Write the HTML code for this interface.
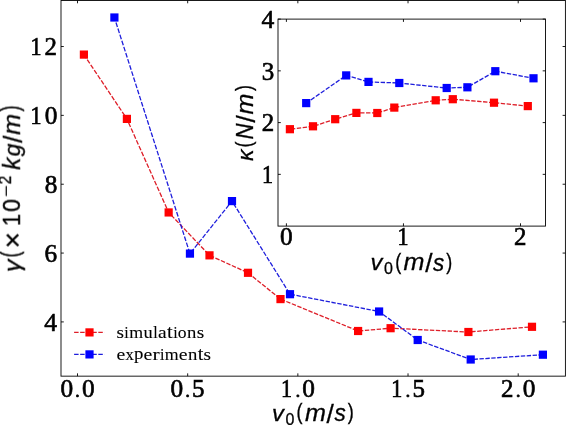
<!DOCTYPE html>
<html><head><meta charset="utf-8"><title>plot</title>
<style>html,body{margin:0;padding:0;background:#fff;overflow:hidden}svg{display:block}</style>
</head><body>
<svg width="566" height="425" viewBox="0 0 566 425"><rect width="566" height="425" fill="#fff"/><g style="opacity:0.999"><rect x="61.0" y="0.5" width="504.40" height="375.65" fill="none" stroke="#000" stroke-width="0.9"/>
<path d="M77.50 376.15v-2.8M77.50 0.50v2.8M187.68 376.15v-2.8M187.68 0.50v2.8M297.85 376.15v-2.8M297.85 0.50v2.8M408.02 376.15v-2.8M408.02 0.50v2.8M518.20 376.15v-2.8M518.20 0.50v2.8M61.00 321.92h2.8M565.40 321.92h-2.8M61.00 253.07h2.8M565.40 253.07h-2.8M61.00 184.22h2.8M565.40 184.22h-2.8M61.00 115.37h2.8M565.40 115.37h-2.8M61.00 46.52h2.8M565.40 46.52h-2.8" stroke="#000" stroke-width="0.9" fill="none"/>
<g fill="none" stroke="rgb(222,30,40)" stroke-width="1.3"><path d="M83.90 54.60L126.90 118.90" stroke-dasharray="4.652 1.639" stroke-dashoffset="0.321"/><path d="M126.90 118.90L168.65 212.45" stroke-dasharray="4.715 1.661" stroke-dashoffset="78.731"/><path d="M168.65 212.45L209.50 255.35" stroke-dasharray="4.581 1.614" stroke-dashoffset="176.026"/><path d="M209.50 255.35L248.00 272.80" stroke-dasharray="4.441 1.564" stroke-dashoffset="227.676"/><path d="M248.00 272.80L280.50 299.10" stroke-dasharray="4.528 1.595" stroke-dashoffset="275.673"/><path d="M280.50 299.10L358.10 331.00" stroke-dasharray="4.431 1.561" stroke-dashoffset="311.318"/><path d="M358.10 331.00L390.60 328.20" stroke-dasharray="4.380 1.543" stroke-dashoffset="390.047"/><path d="M390.60 328.20L468.40 332.00" stroke-dasharray="4.379 1.542" stroke-dashoffset="422.493"/><path d="M468.40 332.00L532.00 326.80" stroke-dasharray="4.380 1.543" stroke-dashoffset="500.562"/></g>
<rect x="79.80" y="50.50" width="8.2" height="8.2" fill="#ff0000"/>
<rect x="122.80" y="114.80" width="8.2" height="8.2" fill="#ff0000"/>
<rect x="164.55" y="208.35" width="8.2" height="8.2" fill="#ff0000"/>
<rect x="205.40" y="251.25" width="8.2" height="8.2" fill="#ff0000"/>
<rect x="243.90" y="268.70" width="8.2" height="8.2" fill="#ff0000"/>
<rect x="276.40" y="295.00" width="8.2" height="8.2" fill="#ff0000"/>
<rect x="354.00" y="326.90" width="8.2" height="8.2" fill="#ff0000"/>
<rect x="386.50" y="324.10" width="8.2" height="8.2" fill="#ff0000"/>
<rect x="464.30" y="327.90" width="8.2" height="8.2" fill="#ff0000"/>
<rect x="527.90" y="322.70" width="8.2" height="8.2" fill="#ff0000"/>
<g fill="none" stroke="rgb(30,30,220)" stroke-width="1.3"><path d="M114.40 17.50L189.95 253.60" stroke-dasharray="4.748 1.673" stroke-dashoffset="1.233"/><path d="M189.95 253.60L232.00 201.10" stroke-dasharray="4.617 1.626" stroke-dashoffset="241.949"/><path d="M232.00 201.10L290.00 294.20" stroke-dasharray="4.664 1.643" stroke-dashoffset="312.425"/><path d="M290.00 294.20L379.10 311.50" stroke-dasharray="4.391 1.547" stroke-dashoffset="397.184"/><path d="M379.10 311.50L417.70 340.00" stroke-dasharray="4.511 1.589" stroke-dashoffset="501.282"/><path d="M417.70 340.00L470.70 359.50" stroke-dasharray="4.422 1.558" stroke-dashoffset="538.560"/><path d="M470.70 359.50L542.90 354.70" stroke-dasharray="4.379 1.543" stroke-dashoffset="589.352"/></g>
<rect x="110.30" y="13.40" width="8.2" height="8.2" fill="#0000ff"/>
<rect x="185.85" y="249.50" width="8.2" height="8.2" fill="#0000ff"/>
<rect x="227.90" y="197.00" width="8.2" height="8.2" fill="#0000ff"/>
<rect x="285.90" y="290.10" width="8.2" height="8.2" fill="#0000ff"/>
<rect x="375.00" y="307.40" width="8.2" height="8.2" fill="#0000ff"/>
<rect x="413.60" y="335.90" width="8.2" height="8.2" fill="#0000ff"/>
<rect x="466.60" y="355.40" width="8.2" height="8.2" fill="#0000ff"/>
<rect x="538.80" y="350.60" width="8.2" height="8.2" fill="#0000ff"/>
<path d="M74.1 332.4H104.4" stroke="rgb(222,30,40)" stroke-width="1.3" stroke-dasharray="4.5 1.55"/>
<rect x="85.40" y="328.30" width="8.2" height="8.2" fill="#ff0000"/>
<path d="M74.1 354.4H104.4" stroke="rgb(30,30,220)" stroke-width="1.3" stroke-dasharray="4.5 1.55"/>
<rect x="85.40" y="350.30" width="8.2" height="8.2" fill="#0000ff"/>
<g><text transform="matrix(1.1368 0 0 1 116.47 337.59)" font-family="Liberation Serif" font-size="16.94" fill="#000" stroke="#000" stroke-width="0.11">s</text><text transform="matrix(0.9670 0 0 1 124.37 337.54)" font-family="Liberation Serif" font-size="16.60" fill="#000" stroke="#000" stroke-width="0.12">i</text><text transform="matrix(1.0612 0 0 1 129.16 337.54)" font-family="Liberation Serif" font-size="16.83" fill="#000" stroke="#000" stroke-width="0.11">m</text><text transform="matrix(1.0870 0 0 1 143.47 337.59)" font-family="Liberation Serif" font-size="16.92" fill="#000" stroke="#000" stroke-width="0.11">u</text><text transform="matrix(0.9830 0 0 1 153.14 337.54)" font-family="Liberation Serif" font-size="16.36" fill="#000" stroke="#000" stroke-width="0.12">l</text><text transform="matrix(1.1467 0 0 1 157.93 337.59)" font-family="Liberation Serif" font-size="17.00" fill="#000" stroke="#000" stroke-width="0.10">a</text><text transform="matrix(1.1370 0 0 1 167.10 337.58)" font-family="Liberation Serif" font-size="18.10" fill="#000" stroke="#000" stroke-width="0.11">t</text><text transform="matrix(0.9670 0 0 1 173.14 337.54)" font-family="Liberation Serif" font-size="16.60" fill="#000" stroke="#000" stroke-width="0.12">i</text><text transform="matrix(1.0393 0 0 1 177.84 337.59)" font-family="Liberation Serif" font-size="16.94" fill="#000" stroke="#000" stroke-width="0.12">o</text><text transform="matrix(1.1111 0 0 1 186.97 337.54)" font-family="Liberation Serif" font-size="16.83" fill="#000" stroke="#000" stroke-width="0.11">n</text><text transform="matrix(1.1368 0 0 1 196.64 337.59)" font-family="Liberation Serif" font-size="16.94" fill="#000" stroke="#000" stroke-width="0.11">s</text></g>
<g><text transform="matrix(1.1666 0 0 1 116.39 359.59)" font-family="Liberation Serif" font-size="16.94" fill="#000" stroke="#000" stroke-width="0.10">e</text><text transform="matrix(0.9967 0 0 1 125.38 359.54)" font-family="Liberation Serif" font-size="16.81" fill="#000" stroke="#000" stroke-width="0.12">x</text><text transform="matrix(1.1600 0 0 1 133.99 359.24)" font-family="Liberation Serif" font-size="16.19" fill="#000" stroke="#000" stroke-width="0.10">p</text><text transform="matrix(1.1666 0 0 1 143.51 359.59)" font-family="Liberation Serif" font-size="16.94" fill="#000" stroke="#000" stroke-width="0.10">e</text><text transform="matrix(1.2797 0 0 1 152.58 359.54)" font-family="Liberation Serif" font-size="16.83" fill="#000" stroke="#000" stroke-width="0.09">r</text><text transform="matrix(0.9670 0 0 1 159.89 359.54)" font-family="Liberation Serif" font-size="16.60" fill="#000" stroke="#000" stroke-width="0.12">i</text><text transform="matrix(1.0612 0 0 1 164.68 359.54)" font-family="Liberation Serif" font-size="16.83" fill="#000" stroke="#000" stroke-width="0.11">m</text><text transform="matrix(1.1666 0 0 1 178.81 359.59)" font-family="Liberation Serif" font-size="16.94" fill="#000" stroke="#000" stroke-width="0.10">e</text><text transform="matrix(1.1111 0 0 1 187.88 359.54)" font-family="Liberation Serif" font-size="16.83" fill="#000" stroke="#000" stroke-width="0.11">n</text><text transform="matrix(1.1370 0 0 1 197.73 359.58)" font-family="Liberation Serif" font-size="18.10" fill="#000" stroke="#000" stroke-width="0.11">t</text><text transform="matrix(1.1368 0 0 1 203.62 359.59)" font-family="Liberation Serif" font-size="16.94" fill="#000" stroke="#000" stroke-width="0.11">s</text></g>
<rect x="278.0" y="19.1" width="267.50" height="207.00" fill="#fff"/>
<rect x="278.0" y="19.1" width="267.50" height="207.00" fill="none" stroke="#000" stroke-width="0.9"/>
<path d="M286.40 226.10v-2.8M286.40 19.10v2.8M403.45 226.10v-2.8M403.45 19.10v2.8M520.50 226.10v-2.8M520.50 19.10v2.8M278.00 174.35h2.8M545.50 174.35h-2.8M278.00 122.60h2.8M545.50 122.60h-2.8M278.00 70.85h2.8M545.50 70.85h-2.8M278.00 19.10h2.8M545.50 19.10h-2.8" stroke="#000" stroke-width="0.9" fill="none"/>
<g fill="none" stroke="rgb(222,30,40)" stroke-width="1.3"><path d="M289.90 129.20L313.00 126.30" stroke-dasharray="4.383 1.544" stroke-dashoffset="-1.037"/><path d="M313.00 126.30L335.20 119.20" stroke-dasharray="4.412 1.554" stroke-dashoffset="22.388"/><path d="M335.20 119.20L356.40 112.90" stroke-dasharray="4.407 1.553" stroke-dashoffset="45.651"/><path d="M356.40 112.90L377.30 113.00" stroke-dasharray="4.378 1.542" stroke-dashoffset="67.311"/><path d="M377.30 113.00L394.30 107.60" stroke-dasharray="4.411 1.554" stroke-dashoffset="88.887"/><path d="M394.30 107.60L435.70 100.30" stroke-dasharray="4.389 1.546" stroke-dashoffset="106.178"/><path d="M435.70 100.30L452.80 99.20" stroke-dasharray="4.379 1.543" stroke-dashoffset="147.897"/><path d="M452.80 99.20L494.00 102.70" stroke-dasharray="4.380 1.543" stroke-dashoffset="165.074"/><path d="M494.00 102.70L527.80 106.10" stroke-dasharray="4.381 1.543" stroke-dashoffset="206.471"/></g>
<rect x="285.80" y="125.10" width="8.2" height="8.2" fill="#ff0000"/>
<rect x="308.90" y="122.20" width="8.2" height="8.2" fill="#ff0000"/>
<rect x="331.10" y="115.10" width="8.2" height="8.2" fill="#ff0000"/>
<rect x="352.30" y="108.80" width="8.2" height="8.2" fill="#ff0000"/>
<rect x="373.20" y="108.90" width="8.2" height="8.2" fill="#ff0000"/>
<rect x="390.20" y="103.50" width="8.2" height="8.2" fill="#ff0000"/>
<rect x="431.60" y="96.20" width="8.2" height="8.2" fill="#ff0000"/>
<rect x="448.70" y="95.10" width="8.2" height="8.2" fill="#ff0000"/>
<rect x="489.90" y="98.60" width="8.2" height="8.2" fill="#ff0000"/>
<rect x="523.70" y="102.00" width="8.2" height="8.2" fill="#ff0000"/>
<g fill="none" stroke="rgb(30,30,220)" stroke-width="1.3"><path d="M306.20 103.10L346.20 75.40" stroke-dasharray="4.500 1.585" stroke-dashoffset="0.493"/><path d="M346.20 75.40L368.50 81.90" stroke-dasharray="4.406 1.552" stroke-dashoffset="47.964"/><path d="M368.50 81.90L399.30 83.00" stroke-dasharray="4.378 1.542" stroke-dashoffset="70.737"/><path d="M399.30 83.00L446.70 88.00" stroke-dasharray="4.382 1.544" stroke-dashoffset="101.490"/><path d="M446.70 88.00L467.40 87.30" stroke-dasharray="4.378 1.542" stroke-dashoffset="149.180"/><path d="M467.40 87.30L495.30 71.20" stroke-dasharray="4.471 1.575" stroke-dashoffset="173.497"/><path d="M495.30 71.20L533.50 78.30" stroke-dasharray="4.390 1.546" stroke-dashoffset="201.974"/></g>
<rect x="302.10" y="99.00" width="8.2" height="8.2" fill="#0000ff"/>
<rect x="342.10" y="71.30" width="8.2" height="8.2" fill="#0000ff"/>
<rect x="364.40" y="77.80" width="8.2" height="8.2" fill="#0000ff"/>
<rect x="395.20" y="78.90" width="8.2" height="8.2" fill="#0000ff"/>
<rect x="442.60" y="83.90" width="8.2" height="8.2" fill="#0000ff"/>
<rect x="463.30" y="83.20" width="8.2" height="8.2" fill="#0000ff"/>
<rect x="491.20" y="67.10" width="8.2" height="8.2" fill="#0000ff"/>
<rect x="529.40" y="74.20" width="8.2" height="8.2" fill="#0000ff"/>
<g><text transform="matrix(1.0398 0 0 1 60.38 396.86)" font-family="Liberation Serif" font-size="24.37" fill="#000" stroke="#000" stroke-width="0.63">0</text><text transform="matrix(0.9952 0 0 1 75.09 396.82)" font-family="Liberation Serif" font-size="19.43" fill="#000" stroke="#000" stroke-width="0.65">.</text><text transform="matrix(1.0398 0 0 1 81.94 396.86)" font-family="Liberation Serif" font-size="24.37" fill="#000" stroke="#000" stroke-width="0.63">0</text></g>
<g><text transform="matrix(1.0398 0 0 1 170.55 396.86)" font-family="Liberation Serif" font-size="24.37" fill="#000" stroke="#000" stroke-width="0.63">0</text><text transform="matrix(0.9952 0 0 1 185.26 396.82)" font-family="Liberation Serif" font-size="19.43" fill="#000" stroke="#000" stroke-width="0.65">.</text><text transform="matrix(1.0284 0 0 1 192.06 396.86)" font-family="Liberation Serif" font-size="24.30" fill="#000" stroke="#000" stroke-width="0.63">5</text></g>
<g><text transform="matrix(0.9024 0 0 1 281.03 396.78)" font-family="Liberation Serif" font-size="24.42" fill="#000" stroke="#000" stroke-width="0.72">1</text><text transform="matrix(0.9952 0 0 1 295.44 396.82)" font-family="Liberation Serif" font-size="19.43" fill="#000" stroke="#000" stroke-width="0.65">.</text><text transform="matrix(1.0398 0 0 1 302.29 396.86)" font-family="Liberation Serif" font-size="24.37" fill="#000" stroke="#000" stroke-width="0.63">0</text></g>
<g><text transform="matrix(0.9024 0 0 1 391.20 396.78)" font-family="Liberation Serif" font-size="24.42" fill="#000" stroke="#000" stroke-width="0.72">1</text><text transform="matrix(0.9952 0 0 1 405.61 396.82)" font-family="Liberation Serif" font-size="19.43" fill="#000" stroke="#000" stroke-width="0.65">.</text><text transform="matrix(1.0284 0 0 1 412.41 396.86)" font-family="Liberation Serif" font-size="24.30" fill="#000" stroke="#000" stroke-width="0.63">5</text></g>
<g><text transform="matrix(1.0220 0 0 1 500.99 396.78)" font-family="Liberation Serif" font-size="24.35" fill="#000" stroke="#000" stroke-width="0.64">2</text><text transform="matrix(0.9952 0 0 1 515.79 396.82)" font-family="Liberation Serif" font-size="19.43" fill="#000" stroke="#000" stroke-width="0.65">.</text><text transform="matrix(1.0398 0 0 1 522.64 396.86)" font-family="Liberation Serif" font-size="24.37" fill="#000" stroke="#000" stroke-width="0.63">0</text></g>
<g><text transform="matrix(1.0448 0 0 1 44.34 330.59)" font-family="Liberation Serif" font-size="24.50" fill="#000" stroke="#000" stroke-width="0.62">4</text></g>
<g><text transform="matrix(1.0322 0 0 1 44.57 261.83)" font-family="Liberation Serif" font-size="24.47" fill="#000" stroke="#000" stroke-width="0.63">6</text></g>
<g><text transform="matrix(1.0355 0 0 1 44.70 192.98)" font-family="Liberation Serif" font-size="24.37" fill="#000" stroke="#000" stroke-width="0.63">8</text></g>
<g><text transform="matrix(0.9024 0 0 1 30.59 124.05)" font-family="Liberation Serif" font-size="24.42" fill="#000" stroke="#000" stroke-width="0.72">1</text><text transform="matrix(1.0398 0 0 1 44.67 124.13)" font-family="Liberation Serif" font-size="24.37" fill="#000" stroke="#000" stroke-width="0.63">0</text></g>
<g><text transform="matrix(0.9024 0 0 1 30.59 55.20)" font-family="Liberation Serif" font-size="24.42" fill="#000" stroke="#000" stroke-width="0.72">1</text><text transform="matrix(1.0220 0 0 1 44.59 55.20)" font-family="Liberation Serif" font-size="24.35" fill="#000" stroke="#000" stroke-width="0.64">2</text></g>
<g><text transform="matrix(1.0398 0 0 1 280.06 245.46)" font-family="Liberation Serif" font-size="24.37" fill="#000" stroke="#000" stroke-width="0.63">0</text></g>
<g><text transform="matrix(0.9024 0 0 1 397.41 245.38)" font-family="Liberation Serif" font-size="24.42" fill="#000" stroke="#000" stroke-width="0.72">1</text></g>
<g><text transform="matrix(1.0220 0 0 1 514.08 245.38)" font-family="Liberation Serif" font-size="24.35" fill="#000" stroke="#000" stroke-width="0.64">2</text></g>
<g><text transform="matrix(0.9024 0 0 1 262.07 183.03)" font-family="Liberation Serif" font-size="24.42" fill="#000" stroke="#000" stroke-width="0.72">1</text></g>
<g><text transform="matrix(1.0220 0 0 1 261.69 131.28)" font-family="Liberation Serif" font-size="24.35" fill="#000" stroke="#000" stroke-width="0.64">2</text></g>
<g><text transform="matrix(1.0218 0 0 1 261.77 79.61)" font-family="Liberation Serif" font-size="24.47" fill="#000" stroke="#000" stroke-width="0.64">3</text></g>
<g><text transform="matrix(1.0448 0 0 1 261.44 27.78)" font-family="Liberation Serif" font-size="24.50" fill="#000" stroke="#000" stroke-width="0.62">4</text></g>
<g><text transform="matrix(1.0419 0 0 1 271.97 420.75)" font-family="Liberation Sans" font-style="italic" font-size="22.83" fill="#000" stroke="#000" stroke-width="0.29">v</text><text transform="matrix(0.9741 0 0 1 285.46 424.59)" font-family="Liberation Sans" font-size="16.48" fill="#000" stroke="#000" stroke-width="0.31">0</text><text transform="matrix(0.8444 0 0 1 296.57 419.32)" font-family="Liberation Sans" font-size="21.28" fill="#000" stroke="#000" stroke-width="0.36">(</text><text transform="matrix(1.0947 0 0 1 304.95 420.75)" font-family="Liberation Sans" font-style="italic" font-size="22.99" fill="#000" stroke="#000" stroke-width="0.27">m</text><text transform="matrix(1.0581 0 0 1 326.61 422.60)" font-family="Liberation Sans" font-size="24.88" fill="#000" stroke="#000" stroke-width="0.28">/</text><text transform="matrix(0.9709 0 0 1 334.43 420.84)" font-family="Liberation Sans" font-style="italic" font-size="23.20" fill="#000" stroke="#000" stroke-width="0.31">s</text><text transform="matrix(0.8444 0 0 1 347.73 419.32)" font-family="Liberation Sans" font-size="21.28" fill="#000" stroke="#000" stroke-width="0.36">)</text></g>
<g><text transform="matrix(1.0419 0 0 1 370.57 270.45)" font-family="Liberation Sans" font-style="italic" font-size="22.83" fill="#000" stroke="#000" stroke-width="0.29">v</text><text transform="matrix(0.9741 0 0 1 384.06 274.29)" font-family="Liberation Sans" font-size="16.48" fill="#000" stroke="#000" stroke-width="0.31">0</text><text transform="matrix(0.8444 0 0 1 395.17 269.02)" font-family="Liberation Sans" font-size="21.28" fill="#000" stroke="#000" stroke-width="0.36">(</text><text transform="matrix(1.0947 0 0 1 403.55 270.45)" font-family="Liberation Sans" font-style="italic" font-size="22.99" fill="#000" stroke="#000" stroke-width="0.27">m</text><text transform="matrix(1.0581 0 0 1 425.21 272.30)" font-family="Liberation Sans" font-size="24.88" fill="#000" stroke="#000" stroke-width="0.28">/</text><text transform="matrix(0.9709 0 0 1 433.03 270.54)" font-family="Liberation Sans" font-style="italic" font-size="23.20" fill="#000" stroke="#000" stroke-width="0.31">s</text><text transform="matrix(0.8444 0 0 1 446.33 269.02)" font-family="Liberation Sans" font-size="21.28" fill="#000" stroke="#000" stroke-width="0.36">)</text></g>
<g transform="translate(19.9 272.6) rotate(-90)"><g><text transform="matrix(1.1013 0 0 1 0.47 -0.17)" font-family="Liberation Sans" font-style="italic" font-size="22.79" fill="#000" stroke="#000" stroke-width="0.27">γ</text><text transform="matrix(0.6601 0 0 1 15.29 -0.81)" font-family="Liberation Sans" font-size="26.62" fill="#000" stroke="#000" stroke-width="0.45">(</text><text transform="matrix(0.9984 0 0 1 24.24 2.23)" font-family="Liberation Sans" font-size="27.96" fill="#000" stroke="#000" stroke-width="0.30">×</text><text transform="matrix(0.9382 0 0 1 46.51 -0.15)" font-family="Liberation Sans" font-size="23.51" fill="#000" stroke="#000" stroke-width="0.32">1</text><text transform="matrix(0.9779 0 0 1 60.68 -0.06)" font-family="Liberation Sans" font-size="23.72" fill="#000" stroke="#000" stroke-width="0.31">0</text><text transform="matrix(1.3907 0 0 1 75.42 -9.04)" font-family="Liberation Sans" font-size="14.21" fill="#000" stroke="#000" stroke-width="0.22">−</text><text transform="matrix(0.9408 0 0 1 88.37 -8.95)" font-family="Liberation Sans" font-size="16.39" fill="#000" stroke="#000" stroke-width="0.32">2</text><text transform="matrix(1.0409 0 0 1 102.76 -0.15)" font-family="Liberation Sans" font-style="italic" font-size="23.28" fill="#000" stroke="#000" stroke-width="0.29">k</text><text transform="matrix(0.9967 0 0 1 116.15 -0.20)" font-family="Liberation Sans" font-style="italic" font-size="22.89" fill="#000" stroke="#000" stroke-width="0.30">g</text><text transform="matrix(1.0581 0 0 1 129.83 1.70)" font-family="Liberation Sans" font-size="24.88" fill="#000" stroke="#000" stroke-width="0.28">/</text><text transform="matrix(1.0947 0 0 1 137.83 -0.15)" font-family="Liberation Sans" font-style="italic" font-size="22.99" fill="#000" stroke="#000" stroke-width="0.27">m</text><text transform="matrix(0.6601 0 0 1 161.14 -0.81)" font-family="Liberation Sans" font-size="26.62" fill="#000" stroke="#000" stroke-width="0.45">)</text></g></g>
<g transform="translate(252.8 161.7) rotate(-90)"><g><text transform="matrix(1.0010 0 0 1 0.68 -0.15)" font-family="Liberation Sans" font-style="italic" font-size="22.83" fill="#000" stroke="#000" stroke-width="0.30">κ</text><text transform="matrix(0.8444 0 0 1 14.31 -1.58)" font-family="Liberation Sans" font-size="21.28" fill="#000" stroke="#000" stroke-width="0.36">(</text><text transform="matrix(0.9462 0 0 1 22.23 -0.15)" font-family="Liberation Sans" font-style="italic" font-size="23.51" fill="#000" stroke="#000" stroke-width="0.32">N</text><text transform="matrix(1.0581 0 0 1 39.24 1.70)" font-family="Liberation Sans" font-size="24.88" fill="#000" stroke="#000" stroke-width="0.28">/</text><text transform="matrix(1.0947 0 0 1 47.24 -0.15)" font-family="Liberation Sans" font-style="italic" font-size="22.99" fill="#000" stroke="#000" stroke-width="0.27">m</text><text transform="matrix(0.8444 0 0 1 70.60 -1.58)" font-family="Liberation Sans" font-size="21.28" fill="#000" stroke="#000" stroke-width="0.36">)</text></g></g></g></svg>
</body></html>
